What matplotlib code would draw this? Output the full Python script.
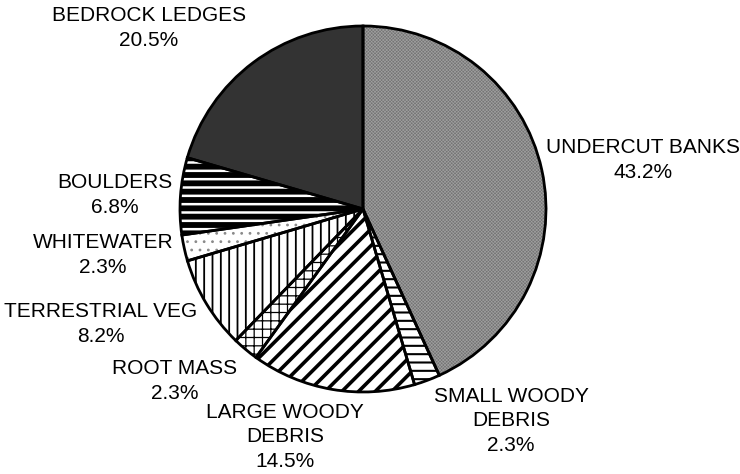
import matplotlib
matplotlib.use("Agg")
import matplotlib.pyplot as plt

plt.rcParams['font.family'] = ['Liberation Sans', 'DejaVu Sans']
plt.rcParams['hatch.linewidth'] = 1.2

categories = ['UNDERCUT BANKS', 'SMALL WOODY\nDEBRIS', 'LARGE WOODY\nDEBRIS', 'ROOT MASS',
              'TERRESTRIAL VEG', 'WHITEWATER', 'BOULDERS', 'BEDROCK LEDGES']
shares = [43.2, 2.3, 14.5, 2.3, 8.2, 2.3, 6.8, 20.5]

# fill, hatch colour, hatch pattern, hatch width
styles = [
    ('#747474', '#a0a0a0', 'x' * 10, 0.45),
    ('white', 'black', '--', 1.5),
    ('white', 'black', '//', 2.6),
    ('white', 'black', '++', 0.9),
    ('white', 'black', '||', 1.3),
    ('white', '#8a8a8a', '..', 0.8),
    ('black', 'white', '--', 1.8),
    ('#333333', '#333333', None, 0.5),
]

# label centre positions in pixels (x, y from top)
label_pos = [(643, 160), (511, 421), (285, 437), (175, 381),
             (101, 324), (103, 255), (115, 195), (149, 28)]

W, H = 740, 474
fig = plt.figure(figsize=(W / 100, H / 100), dpi=100)
cx, cy, r = 363, 209, 183
ax = fig.add_axes([(cx - r) / W, (H - cy - r) / H, 2 * r / W, 2 * r / H])

wedges, _ = ax.pie(shares, startangle=90, counterclock=False,
                   colors=[s[0] for s in styles])
for w, (fc, hc, hatch, hlw) in zip(wedges, styles):
    w.set_edgecolor(hc)
    w.set_linewidth(0.01)
    if hatch:
        w.set_hatch(hatch)
    if hasattr(w, 'set_hatch_linewidth'):
        w.set_hatch_linewidth(hlw)

# outlines
ax.pie(shares, startangle=90, counterclock=False, colors=['none'] * len(shares),
       wedgeprops=dict(linewidth=2, edgecolor='black', fill=False))

ax.set_xlim(-1, 1)
ax.set_ylim(-1, 1)
ax.set_aspect('equal')
ax.axis('off')

for name, val, (x, y) in zip(categories, shares, label_pos):
    fig.text(x / W, 1 - y / H, f"{name}\n{val:.1f}%", ha='center', va='center',
             fontsize=15, linespacing=1.35)

fig.savefig('out.png', dpi=100)
